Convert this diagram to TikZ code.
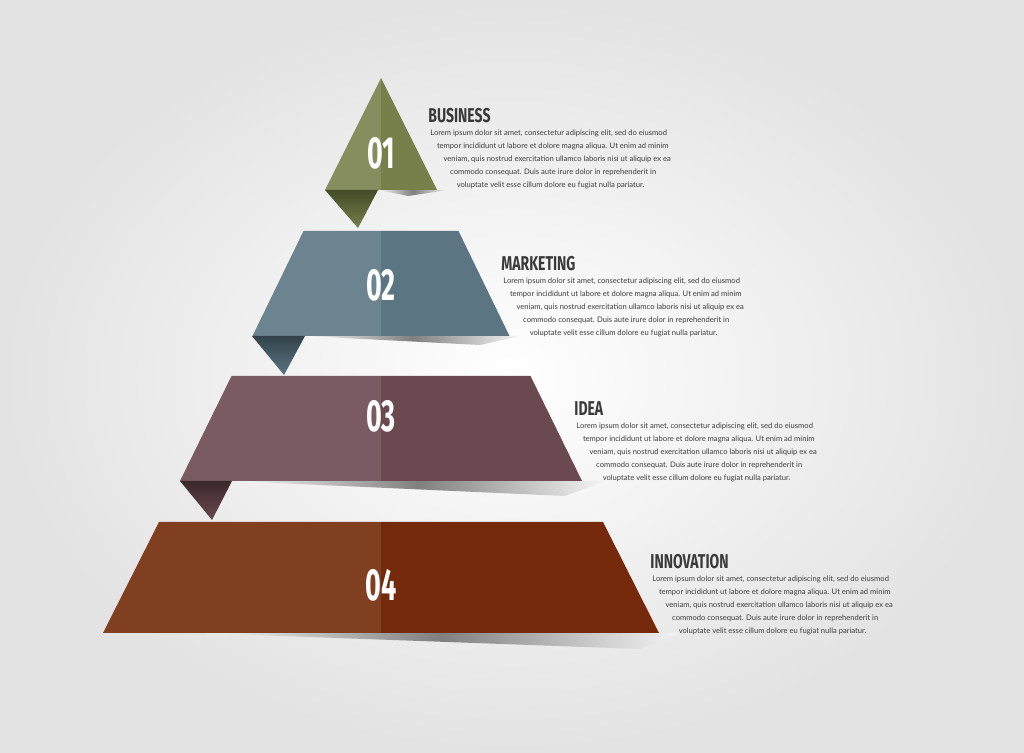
\documentclass[tikz,border=0pt]{standalone}
\usepackage{fontspec}
\setmainfont{Lato}
\newfontfamily\headfont[FakeStretch=0.7]{Fira Sans}
\newfontfamily\numfont[FakeStretch=0.6]{Fira Sans}

\definecolor{busL}{HTML}{868D5E}
\definecolor{busR}{HTML}{77804B}
\definecolor{busF}{HTML}{444B28}
\definecolor{mktL}{HTML}{6C848F}
\definecolor{mktR}{HTML}{5B7582}
\definecolor{mktF}{HTML}{33424A}
\definecolor{ideaL}{HTML}{7B5B63}
\definecolor{ideaR}{HTML}{6B4950}
\definecolor{ideaF}{HTML}{3A282D}
\definecolor{innoL}{HTML}{813F22}
\definecolor{innoR}{HTML}{74290B}
\definecolor{titlegray}{HTML}{3A3A3A}
\definecolor{bodygray}{HTML}{3C3C3C}

\newcommand*\lorema{Lorem ipsum dolor sit amet, consectetur adipiscing elit, sed do eiusmod}
\newcommand*\loremb{tempor incididunt ut labore et dolore magna aliqua. Ut enim ad minim}
\newcommand*\loremc{veniam, quis nostrud exercitation ullamco laboris nisi ut aliquip ex ea}
\newcommand*\loremd{commodo consequat. Duis aute irure dolor in reprehenderit in}
\newcommand*\loreme{voluptate velit esse cillum dolore eu fugiat nulla pariatur.}

\tikzset{
    tiernum/.style={
        font=\numfont\bfseries\fontsize{22.5}{22.5}\selectfont,
        text=white,
        inner sep=0pt
    },
    tiertitle/.style={
        font=\headfont\bfseries\fontsize{10}{10}\selectfont,
        text=titlegray,
        anchor=base west,
        inner sep=0pt
    },
    tierline/.style={
        font=\fontsize{3.8}{4.5}\selectfont,
        text=bodygray,
        anchor=west,
        inner sep=0pt
    }
}

\begin{document}
\begin{tikzpicture}[x=0.5pt,y=-0.5pt]

    % Soft grey background, lighter in the middle.
    \shade[inner color=white,outer color=black!11] (0,0) rectangle (1024,753);
    \useasboundingbox (0,0) rectangle (1024,753);

    % Shadows under each step.
    \foreach \sl/\sr/\sy/\sh in {378/448/190/6,305/520/336/9,232/605/481/15,200/680/633/16}
        \shade[left color=black!2,right color=black!4,middle color=black!50]
            (\sl,\sy) -- (\sr,\sy) -- (\sr-40,\sy+\sh) -- cycle;

    % The steps: number/top y/bottom y/top half width/bottom half width/colours/number y.
    \foreach \n/\ty/\by/\tw/\bw/\lc/\rc/\ny in {01/78/190/0/56/busL/busR/153,
        02/231/336/77.5/128.5/mktL/mktR/285,
        03/376/481/149.5/201/ideaL/ideaR/416,
        04/522/633/222/278/innoL/innoR/585}
    {
        \fill[\lc] (381-\tw,\ty) -- (381,\ty) -- (381,\by) -- (381-\bw,\by) -- cycle;
        \fill[\rc] (381,\ty) -- (381+\tw,\ty) -- (381+\bw,\by) -- (381,\by) -- cycle;
        \node[tiernum] (num\n) at (381,\ny) {\n};
    }

    % Folded corners hanging below the steps.
    \foreach \fl/\fr/\fy/\ax/\ay/\dk/\lt in {325/378/190/358/228/busF/busR,
        252/305/336/284/375/mktF/mktR,
        180/232/481/212/520/ideaF/ideaR}
        \shade[top color=\dk,bottom color=\lt] (\fl,\fy) -- (\fr,\fy) -- (\ax,\ay) -- cycle;

    % Titles and text beside each step.
    \foreach \n/\title/\tx/\tyy in {01/BUSINESS/430/133,02/MARKETING/503/281,
        03/IDEA/576/426,04/INNOVATION/652/579}
    {
        \node[tiertitle] (title\n) at (\tx-2,\tyy-10.5) {\title};
        \foreach \k/\txt in {0/\lorema,1/\loremb,2/\loremc,3/\loremd,4/\loreme}
            \node[tierline] (text\n-\k) at (\tx+6.6*\k,\tyy+13.2*\k) {\txt};
    }

\end{tikzpicture}
\end{document}
